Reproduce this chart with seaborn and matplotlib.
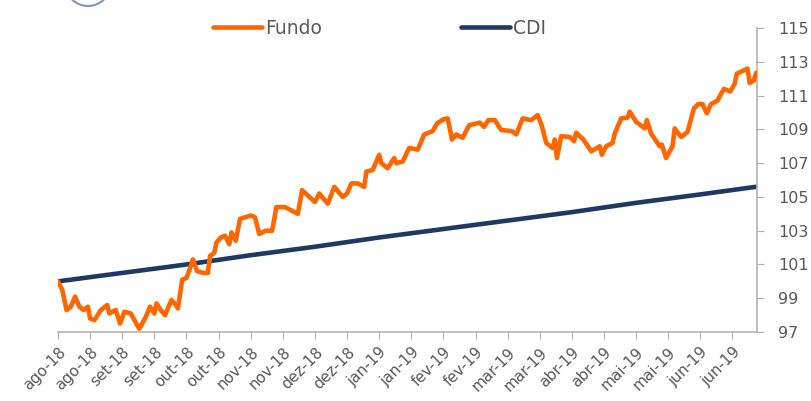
import matplotlib.pyplot as plt
import matplotlib.patches as mpatches
import pandas as pd
import seaborn as sns

# Days since 2018-08-06 (axis ticks every 15 days)
fundo_days = [0, 2, 4, 6, 8, 10, 12, 14, 15, 17, 20, 23, 24, 27, 29, 31, 34, 37, 38, 41,
              43, 45, 46, 48, 50, 53, 55, 56, 58, 60, 62, 63, 65, 68, 70, 71, 73, 74, 76, 78,
              80, 81, 83, 85, 90, 92, 94, 97, 100, 102, 106, 109, 112, 114, 117, 120, 122, 126,
              129, 133, 135, 137, 140, 143, 144, 147, 150, 151, 154, 157, 158, 161, 164, 168,
              171, 175, 177, 180, 182, 184, 186, 189, 192, 197, 199, 201, 204, 207, 212, 214,
              217, 221, 224, 226, 228, 231, 232, 233, 235, 239, 241, 242, 245, 247, 249, 253,
              254, 256, 259, 260, 263, 266, 267, 270, 274, 275, 277, 281, 282, 284, 287, 288,
              291, 294, 297, 299, 301, 303, 305, 308, 309, 311, 314, 316, 317, 322, 323, 325, 326]
fundo_vals = [100.0, 99.5, 98.3, 98.5, 99.1, 98.5, 98.3, 98.5, 97.8, 97.7, 98.3, 98.6, 98.1, 98.3,
              97.5, 98.2, 98.1, 97.4, 97.2, 97.9, 98.5, 98.1, 98.7, 98.3, 98.0, 98.9, 98.6, 98.4,
              100.1, 100.2, 100.9, 101.3, 100.6, 100.5, 100.5, 101.5, 101.7, 102.3, 102.6, 102.7,
              102.2, 102.9, 102.4, 103.7, 103.9, 103.8, 102.8, 103.0, 103.0, 104.4, 104.4, 104.2,
              104.0, 105.4, 105.05, 104.7, 105.2, 104.6, 105.6, 105.0, 105.2, 105.8, 105.8, 105.6,
              106.5, 106.6, 107.5, 107.0, 106.7, 107.3, 107.0, 107.1, 107.9, 107.8, 108.7, 108.9,
              109.35, 109.6, 109.65, 108.4, 108.7, 108.5, 109.25, 109.4, 109.15, 109.55, 109.55,
              108.96, 108.9, 108.7, 109.65, 109.55, 109.85, 109.2, 108.2, 107.9, 108.4, 107.3,
              108.6, 108.55, 108.3, 108.8, 108.45, 108.1, 107.7, 108.0, 107.5, 108.0, 108.2,
              108.75, 109.65, 109.7, 110.05, 109.45, 109.06, 109.55, 108.75, 108.0, 108.1, 107.3,
              108.0, 109.06, 108.55, 108.85, 110.25, 110.5, 110.5, 109.95, 110.5, 110.7, 110.95,
              111.4, 111.25, 111.7, 112.3, 112.6, 111.75, 111.9, 112.35]

cdi_days = [0, 30, 60, 90, 120, 150, 180, 210, 240, 270, 300, 326]
cdi_vals = [100.0, 100.5, 101.0, 101.55, 102.05, 102.6, 103.1, 103.6, 104.1, 104.65, 105.15, 105.6]

tick_days = list(range(0, 330, 15))
tick_labels = ['ago-18', 'ago-18', 'set-18', 'set-18', 'out-18', 'out-18', 'nov-18', 'nov-18',
               'dez-18', 'dez-18', 'jan-19', 'jan-19', 'fev-19', 'fev-19', 'mar-19', 'mar-19',
               'abr-19', 'abr-19', 'mai-19', 'mai-19', 'jun-19', 'jun-19']
y_ticks = list(range(97, 116, 2))

fundo = pd.DataFrame({'dia': fundo_days, 'valor': fundo_vals})
cdi = pd.DataFrame({'dia': cdi_days, 'valor': cdi_vals})

sns.set_style("white")
plt.rcParams['font.family'] = ['DejaVu Sans']

grey_txt = '#595959'
grey_axis = '#b3b3b3'

fig = plt.figure(figsize=(8.12, 4.01), dpi=100)
ax = fig.add_axes([0.0714, 0.172, 0.861, 0.758])

sns.lineplot(x='dia', y='valor', data=fundo, ax=ax, color='#ff6600', linewidth=3.3,
             label='Fundo', zorder=3)
sns.lineplot(x='dia', y='valor', data=cdi, ax=ax, color='#1f3864', linewidth=3.3,
             label='CDI', zorder=2)

ax.set_xlim(0, 326.5)
ax.set_ylim(97, 115)
ax.set_xlabel('')
ax.set_ylabel('')

ax.yaxis.tick_right()
ax.set_yticks(y_ticks)
ax.set_xticks(tick_days)
ax.set_xticklabels(tick_labels, rotation=45, ha='right', rotation_mode='anchor')

for s in ['left', 'top']:
    ax.spines[s].set_visible(False)
for s in ['right', 'bottom']:
    ax.spines[s].set_color(grey_axis)
    ax.spines[s].set_linewidth(1.2)

ax.tick_params(axis='y', which='both', right=True, left=False, direction='out', length=5,
               color=grey_axis, labelcolor=grey_txt, labelsize=11.5, pad=10)
ax.tick_params(axis='x', which='both', bottom=True, direction='out', length=5,
               color=grey_axis, labelcolor=grey_txt, labelsize=11, pad=4)
ax.grid(False)

leg = ax.legend(loc='center', bbox_to_anchor=(0.46, 1.0), ncol=2, frameon=False,
                handlelength=2.6, handletextpad=0.2, columnspacing=7.4, fontsize=13.5)
for t in leg.get_texts():
    t.set_color(grey_txt)
for h in leg.get_lines():
    h.set_linewidth(3.3)
    h.set_solid_capstyle('round')

# partial logo circle cut off at the top left
fig.patches.append(mpatches.Ellipse((88 / 812, 1 + 17 / 401), 46 / 812, 46 / 401,
                                    transform=fig.transFigure, fill=False,
                                    edgecolor='#8496b0', linewidth=1.5))

fig.savefig('out.png', dpi=100)
